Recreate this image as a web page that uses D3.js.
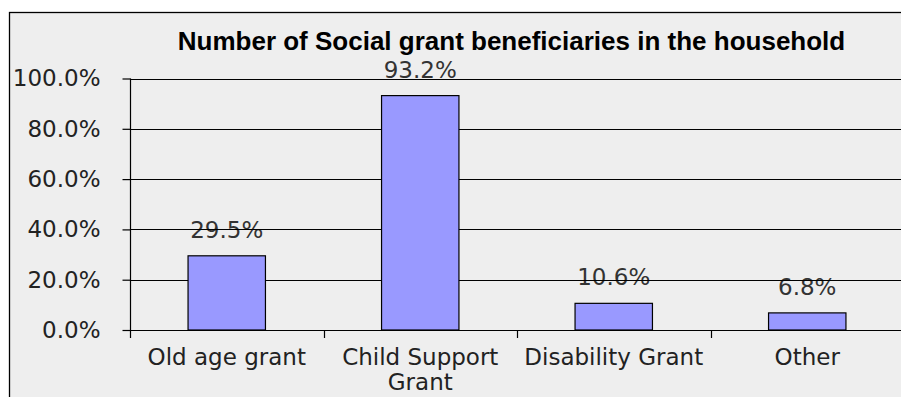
<!DOCTYPE html>
<html>
<head>
<meta charset="utf-8">
<script src="https://cdn.jsdelivr.net/npm/d3@7"></script>
<style>
  html, body { margin: 0; padding: 0; background: #ffffff; overflow: hidden; }
  svg { display: block; }
</style>
</head>
<body>
<script>
// ---- data ----
const categories = ["Old age grant", "Child Support Grant", "Disability Grant", "Other"];
const categoryLines = [["Old age grant"], ["Child Support", "Grant"], ["Disability Grant"], ["Other"]];
const values = [29.5, 93.2, 10.6, 6.8];
const valueLabels = ["29.5%", "93.2%", "10.6%", "6.8%"];
const yTicks = [0, 20, 40, 60, 80, 100];
const yTickLabels = ["0.0%", "20.0%", "40.0%", "60.0%", "80.0%", "100.0%"];
const title = "Number of Social grant beneficiaries in the household";

// ---- layout ----
const W = 901, H = 397;
const plotLeft = 130, plotRight = 904, plotTop = 78.5, plotBottom = 330;

const svg = d3.select("body").append("svg").attr("width", W).attr("height", H);

// chart area background + border (clipped at right/bottom)
svg.append("rect").attr("x", 9.5).attr("y", 12.5).attr("width", W).attr("height", H)
  .attr("fill", "#eeeeee").attr("stroke", "#000").attr("stroke-width", 1.3);

const x = d3.scaleBand().domain(categories).range([plotLeft, plotRight]).paddingInner(0).paddingOuter(0);
const xBar = d3.scaleBand().domain(categories).range([plotLeft, plotRight]).paddingInner(0.6).paddingOuter(0.3);
const y = d3.scaleLinear().domain([0, 100]).range([plotBottom, plotTop]);

const font = "'DejaVu Sans', sans-serif";

// title
svg.append("text").attr("x", 511.5).attr("y", 50).attr("text-anchor", "middle")
  .attr("font-family", "'Liberation Sans', Arial, sans-serif").attr("font-weight", "bold")
  .attr("font-size", 26).attr("fill", "#000").text(title);

// value labels (drawn under gridlines, as in reference)
svg.append("g").selectAll("text").data(values).join("text")
  .attr("x", (d, i) => xBar(categories[i]) + xBar.bandwidth() / 2)
  .attr("y", d => y(d) - 18)
  .attr("text-anchor", "middle")
  .attr("font-family", font).attr("font-size", 23).attr("fill", "#333")
  .text((d, i) => valueLabels[i]);

// gridlines
svg.append("g").selectAll("line").data(yTicks.filter(t => t > 0)).join("line")
  .attr("x1", plotLeft).attr("x2", plotRight)
  .attr("y1", d => Math.round(y(d)) + 0.5).attr("y2", d => Math.round(y(d)) + 0.5)
  .attr("stroke", "#000").attr("stroke-width", 1.2);

// bars
svg.append("g").selectAll("rect").data(values).join("rect")
  .attr("x", (d, i) => xBar(categories[i]))
  .attr("y", d => y(d))
  .attr("width", xBar.bandwidth())
  .attr("height", d => y(0) - y(d))
  .attr("fill", "#9999ff").attr("stroke", "#000").attr("stroke-width", 1.2);

// y axis
const yAxis = d3.axisLeft(y).tickValues(yTicks).tickSize(8).tickPadding(22)
  .tickFormat((d, i) => yTickLabels[i]);
const gy = svg.append("g").attr("transform", `translate(${plotLeft + 0.5},0)`).call(yAxis);
gy.select(".domain").remove();
gy.selectAll(".tick line").attr("stroke", "#000").attr("stroke-width", 1.2);
gy.selectAll(".tick text").attr("font-family", font).attr("font-size", 23).attr("fill", "#222");
svg.append("line").attr("x1", plotLeft + 0.5).attr("x2", plotLeft + 0.5)
  .attr("y1", plotTop).attr("y2", plotBottom + 8).attr("stroke", "#000").attr("stroke-width", 1.2);

// x axis
svg.append("line").attr("x1", plotLeft).attr("x2", plotRight)
  .attr("y1", Math.round(y(0)) + 0.5).attr("y2", Math.round(y(0)) + 0.5)
  .attr("stroke", "#000").attr("stroke-width", 1.2);
svg.append("g").selectAll("line").data(categories.slice(1)).join("line")
  .attr("x1", d => Math.round(x(d)) + 0.5).attr("x2", d => Math.round(x(d)) + 0.5)
  .attr("y1", plotBottom).attr("y2", plotBottom + 8)
  .attr("stroke", "#000").attr("stroke-width", 1.2);

const xl = svg.append("g").selectAll("text").data(categories).join("text")
  .attr("text-anchor", "middle")
  .attr("font-family", font).attr("font-size", 23).attr("fill", "#222")
  .attr("x", d => xBar(d) + xBar.bandwidth() / 2)
  .attr("y", 365);
xl.each(function(d, i) {
  const t = d3.select(this);
  categoryLines[i].forEach((line, j) => {
    t.append("tspan").attr("x", xBar(d) + xBar.bandwidth() / 2).attr("dy", j === 0 ? 0 : 25).text(line);
  });
});
</script>
</body>
</html>
